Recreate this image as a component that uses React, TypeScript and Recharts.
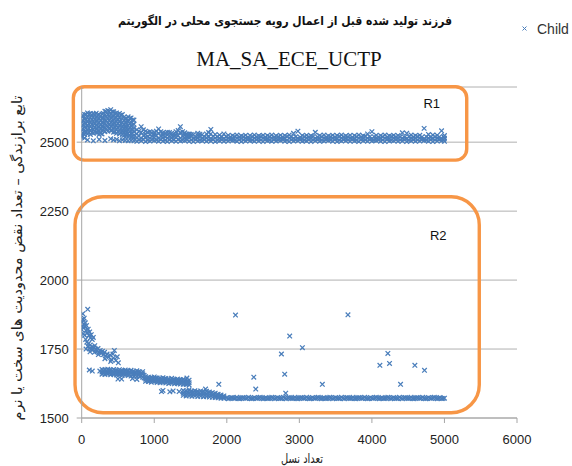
import React from 'react';
import { ScatterChart, Scatter, XAxis, YAxis, CartesianGrid, ReferenceArea } from 'recharts';

// ---------- tick labels ----------
const xTicks = [0, 1000, 2000, 3000, 4000, 5000, 6000];
const yTicks = [1500, 1750, 2000, 2250, 2500];

// ---------- R1 : early cloud (generation 0..720) ----------
const earlyGens = [0, 40, 80, 120, 160, 200, 240, 280, 320, 360, 400, 440, 480, 520, 560, 600, 640, 680, 720];
const e1 = [2592, 2600, 2606, 2604, 2603, 2605, 2600, 2602, 2612, 2615, 2618, 2610, 2606, 2604, 2600, 2585, 2592, 2588, 2580];
const e2 = [2575, 2585, 2590, 2588, 2590, 2592, 2585, 2588, 2598, 2600, 2602, 2595, 2590, 2590, 2585, 2570, 2575, 2572, 2565];
const e3 = [2560, 2570, 2575, 2572, 2575, 2578, 2570, 2572, 2582, 2585, 2588, 2580, 2575, 2575, 2570, 2555, 2560, 2558, 2550];
const e4 = [2545, 2555, 2560, 2558, 2560, 2562, 2555, 2558, 2568, 2570, 2572, 2565, 2560, 2560, 2555, 2540, 2545, 2542, 2538];
const e5 = [2530, 2540, 2545, 2542, 2545, 2548, 2540, 2542, 2552, 2555, 2558, 2550, 2545, 2545, 2540, 2528, 2532, 2530, 2525];
const e6 = [2518, 2528, 2530, 2528, 2532, 2535, 2528, 2530, 2538, 2540, 2542, 2536, 2532, 2530, 2528, 2518, 2520, 2518, 2515];
const e7 = [2522, 2515, 2508, null, 2505, null, 2510, null, 2506, null, 2512, 2508, 2510, 2505, 2508, 2506, 2505, 2506, 2505];
const earlyGensB = [20, 60, 100, 140, 180, 220, 260, 300, 340, 380, 420, 460, 500, 540, 580, 620, 660, 700];
const eb1 = [2596, 2600, 2602, 2598, 2600, 2598, 2596, 2604, 2610, 2612, 2610, 2604, 2600, 2598, 2590, 2585, 2586, 2580];
const eb2 = [2578, 2582, 2580, 2582, 2584, 2580, 2578, 2588, 2594, 2596, 2592, 2586, 2582, 2580, 2565, 2570, 2568, 2562];
const eb3 = [2562, 2568, 2566, 2565, 2570, 2566, 2563, 2572, 2578, 2580, 2576, 2570, 2568, 2566, 2552, 2556, 2552, 2546];
const eb4 = [2548, 2552, 2550, 2550, 2554, 2550, 2548, 2558, 2562, 2565, 2560, 2555, 2552, 2550, 2538, 2542, 2538, 2532];
const eb5 = [2532, 2538, 2535, 2536, 2540, 2535, 2532, 2544, 2548, 2550, 2544, 2538, 2538, 2535, 2524, 2528, 2524, 2520];

// ---------- R1 : band (generation 760..5000) ----------
const bandGens = [
  760, 820, 880, 940, 1000, 1060, 1120, 1180, 1240, 1300,
  1360, 1420, 1480, 1540, 1600, 1660, 1720, 1780, 1840, 1900,
  1960, 2020, 2080, 2140, 2200, 2260, 2320, 2380, 2440, 2500,
  2560, 2620, 2680, 2740, 2800, 2860, 2920, 2980, 3040, 3100,
  3160, 3220, 3280, 3340, 3400, 3460, 3520, 3580, 3640, 3700,
  3760, 3820, 3880, 3940, 4000, 4060, 4120, 4180, 4240, 4300,
  4360, 4420, 4480, 4540, 4600, 4660, 4720, 4780, 4840, 4900,
  4960, 5000,
];
const b1 = [
  2503, 2505, 2502, 2504, 2506, 2503, 2504, 2502, 2505, 2503,
  2504, 2506, 2503, 2502, 2504, 2505, 2503, 2504, 2502, 2505,
  2503, 2504, 2506, 2503, 2502, 2504, 2505, 2503, 2504, 2502,
  2505, 2503, 2504, 2506, 2503, 2502, 2504, 2505, 2503, 2504,
  2502, 2505, 2503, 2504, 2506, 2503, 2502, 2504, 2505, 2503,
  2504, 2502, 2505, 2503, 2504, 2506, 2503, 2502, 2504, 2505,
  2503, 2504, 2502, 2505, 2503, 2504, 2506, 2503, 2502, 2504,
  2505, 2503,
];
const b2 = [
  2516, 2514, 2518, 2515, 2517, 2513, 2516, 2514, 2515, 2517,
  2514, 2516, 2515, 2513, 2515, 2514, 2516, 2513, 2515, 2514,
  2513, 2514, 2512, 2515, 2513, 2514, 2512, 2515, 2513, 2514,
  2512, 2515, 2513, 2514, 2512, 2515, 2513, 2514, 2512, 2515,
  2513, 2514, 2512, 2515, 2513, 2514, 2512, 2515, 2513, 2514,
  2512, 2515, 2513, 2514, 2512, 2515, 2513, 2514, 2512, 2515,
  2513, 2514, 2512, 2515, 2513, 2514, 2512, 2515, 2513, 2514,
  2512, 2514,
];
const b3 = [
  2545, 2556, 2540, 2538, 2535, 2548, 2534, 2536, 2532, 2538,
  2556, 2534, 2530, 2528, 2532, 2527, 2530, 2546, 2528, 2526,
  2530, 2525, 2524, 2526, 2523, 2525, 2524, 2526, 2523, 2525,
  2524, 2526, 2523, 2525, 2524, 2526, 2532, 2540, 2524, 2525,
  2523, 2536, 2524, 2526, 2523, 2525, 2524, 2526, 2523, 2525,
  2524, 2526, 2523, 2530, 2538, 2525, 2524, 2526, 2523, 2525,
  2524, 2534, 2532, 2526, 2524, 2525, 2550, 2528, 2526, 2525,
  2541, 2524,
];
const b4 = [
  2530, 2535, 2528, 2527, 2526, 2532, 2525, 2526, 2524, 2527,
  2535, 2525, 2522, null, 2524, null, null, 2530, null, null,
];
const bandGensB = [
  790, 850, 910, 970, 1030, 1090, 1150, 1210, 1270, 1330,
  1390, 1450, 1510, 1570, 1630, 1690, 1750, 1810, 1870, 1930,
  1990, 2050, 2110, 2170, 2230, 2290, 2350, 2410, 2470, 2530,
  2590, 2650, 2710, 2770, 2830, 2890, 2950, 3010, 3070, 3130,
  3190, 3250, 3310, 3370, 3430, 3490, 3550, 3610, 3670, 3730,
  3790, 3850, 3910, 3970, 4030, 4090, 4150, 4210, 4270, 4330,
  4390, 4450, 4510, 4570, 4630, 4690, 4750, 4810, 4870, 4930,
  4990,
];
const bb1 = [
  2508, 2510, 2507, 2509, 2508, 2510, 2507, 2509, 2508, 2510,
  2507, 2509, 2508, 2510, 2507, 2509, 2508, 2510, 2507, 2509,
  2508, 2510, 2507, 2509, 2508, 2510, 2507, 2509, 2508, 2510,
  2507, 2509, 2508, 2510, 2507, 2509, 2508, 2510, 2507, 2509,
  2508, 2510, 2507, 2509, 2508, 2510, 2507, 2509, 2508, 2510,
  2507, 2509, 2508, 2510, 2507, 2509, 2508, 2510, 2507, 2509,
  2508, 2510, 2507, 2509, 2508, 2510, 2507, 2509, 2508, 2510,
  2508,
];
const bb2 = [
  2522, 2524, 2520, 2521, 2525, 2522, 2520, 2523, 2521, 2524,
  2522, 2520, 2521, 2519, 2521, 2520, 2519, 2521, 2520, 2519,
  2520, 2519, 2521, 2519, 2520, 2518, 2520, 2519, 2521, 2519,
  2520, 2518, 2520, 2519, 2521, 2519, 2520, 2518, 2520, 2519,
  2521, 2519, 2520, 2518, 2520, 2519, 2521, 2519, 2520, 2518,
  2520, 2519, 2521, 2519, 2520, 2518, 2520, 2519, 2521, 2519,
  2520, 2518, 2520, 2519, 2521, 2519, 2520, 2518, 2520, 2519,
  2520,
];
const bb3 = [2540, 2545, 2536, 2534, 2540, 2538, 2532, 2535, 2530, 2542, 2538, 2530, 2528, null, 2529, null, 2535, null];

// ---------- R2 : early cloud (generation 0..505) ----------
const r2Early: [number, number][] = [
  [0, 1820], [5, 1848], [14, 1878], [20, 1858], [28, 1840], [35, 1862], [42, 1830], [50, 1845],
  [58, 1818], [66, 1835], [83, 1894], [75, 1808], [90, 1822], [100, 1800], [110, 1812], [120, 1790],
  [132, 1802], [145, 1785], [160, 1792], [40, 1800], [55, 1785], [70, 1775], [85, 1760], [95, 1770],
  [105, 1752], [118, 1765], [130, 1750], [142, 1758], [155, 1748], [168, 1755], [180, 1762], [195, 1750],
  [210, 1742], [225, 1752], [240, 1738], [255, 1745], [270, 1735], [285, 1742], [300, 1730], [315, 1738],
  [330, 1725], [350, 1732], [370, 1720], [390, 1728], [410, 1712], [430, 1732], [450, 1745], [470, 1708],
  [490, 1722], [505, 1700], [60, 1750], [115, 1740], [175, 1738], [230, 1730], [320, 1715], [400, 1705],
  [440, 1718], [25, 1805], [12, 1830],
];

// ---------- R2 : lower branch (generation 280..1480) ----------
const lowGens = [280, 320, 360, 400, 440, 480, 520, 560, 600, 640, 680, 720, 760, 800, 840,
  880, 920, 960, 1000, 1040, 1080, 1120, 1160, 1200, 1240, 1280, 1320, 1360, 1400, 1440, 1480];
const l1 = [1676, 1675, 1677, 1674, 1676, 1673, 1675, 1672, 1674, 1671, 1673, 1669, 1671, 1667, 1668,
  1650, 1648, 1647, 1649, 1645, 1644, 1646, 1643, 1641, 1644, 1640, 1641, 1639, 1640, 1638, 1637];
const l2 = [1667, 1666, 1668, 1665, 1667, 1664, 1666, 1663, 1665, 1662, 1664, 1660, 1662, 1658, 1660,
  1641, 1640, 1638, 1640, 1637, 1636, 1638, 1635, 1633, 1636, 1632, 1633, 1631, 1631, 1629, 1628];
const l3 = [1659, 1658, 1660, 1657, 1659, 1656, 1658, 1655, 1657, 1654, 1652, 1652, 1650, 1650, 1648,
  1633, 1632, 1630, 1632, 1629, 1628, 1630, 1627, 1625, 1628, 1624, 1625, 1623, 1622, 1621, 1620];
const lowGensB = [300, 340, 380, 420, 460, 500, 540, 580, 620, 660, 700, 740, 780, 820, 860,
  900, 940, 980, 1020, 1060, 1100, 1140, 1180, 1220, 1260, 1300, 1340, 1380, 1420, 1460];
const lb1 = [1672, 1671, 1673, 1670, 1672, 1669, 1671, 1668, 1670, 1667, 1668, 1665, 1667, 1663, 1655,
  1645, 1644, 1643, 1645, 1641, 1640, 1642, 1639, 1637, 1640, 1636, 1637, 1635, 1635, 1633];
const lb2 = [1663, 1662, 1664, 1661, 1663, 1660, 1662, 1659, 1661, 1658, 1658, 1656, 1656, 1654, 1645,
  1637, 1636, 1634, 1636, 1633, 1632, 1634, 1631, 1629, 1632, 1628, 1629, 1627, 1626, 1625];

// ---------- R2 : second step (generation 1400..1960) ----------
const stepGens = [1400, 1440, 1480, 1520, 1560, 1600, 1640, 1680, 1720, 1760, 1800, 1840, 1880, 1920, 1960];
const s1 = [1600, 1598, 1602, 1597, 1599, 1596, 1598, 1595, 1597, 1594, 1592, 1590, 1586, 1583, 1580];
const s2 = [1590, 1589, 1591, 1588, 1589, 1587, 1588, 1586, 1587, 1585, 1583, 1581, 1578, 1576, 1574];
const s3 = [1582, 1580, 1581, 1579, 1580, 1578, 1579, 1577, 1578, 1576, 1575, 1574, 1573, 1572, 1572];
const stepGensB = [1420, 1460, 1500, 1540, 1580, 1620, 1660, 1700, 1740, 1780, 1820, 1860, 1900, 1940];
const sb1 = [1595, 1593, 1596, 1592, 1594, 1591, 1593, 1590, 1592, 1589, 1587, 1584, 1581, 1577];

// ---------- R2 : flat line (generation 2000..5000) ----------
const flatGens = [
  2000, 2040, 2080, 2120, 2160, 2200, 2240, 2280, 2320, 2360, 2400, 2440, 2480, 2520, 2560, 2600,
  2640, 2680, 2720, 2760, 2800, 2840, 2880, 2920, 2960, 3000, 3040, 3080, 3120, 3160, 3200, 3240,
  3280, 3320, 3360, 3400, 3440, 3480, 3520, 3560, 3600, 3640, 3680, 3720, 3760, 3800, 3840, 3880,
  3920, 3960, 4000, 4040, 4080, 4120, 4160, 4200, 4240, 4280, 4320, 4360, 4400, 4440, 4480, 4520,
  4560, 4600, 4640, 4680, 4720, 4760, 4800, 4840, 4880, 4920, 4960, 5000,
];
const flatVals = [
  1573, 1572, 1573, 1572, 1571, 1572, 1573, 1572, 1572, 1571, 1572, 1573, 1572, 1572, 1571, 1572,
  1573, 1572, 1572, 1571, 1572, 1573, 1572, 1572, 1571, 1572, 1573, 1572, 1572, 1571, 1572, 1573,
  1572, 1572, 1571, 1572, 1573, 1572, 1572, 1571, 1572, 1573, 1572, 1572, 1571, 1572, 1573, 1572,
  1572, 1571, 1572, 1573, 1572, 1572, 1571, 1572, 1573, 1572, 1572, 1571, 1572, 1573, 1572, 1572,
  1571, 1572, 1573, 1572, 1572, 1571, 1572, 1573, 1572, 1572, 1571, 1572,
];
const flatGensB = [
  2020, 2060, 2100, 2140, 2180, 2220, 2260, 2300, 2340, 2380, 2420, 2460, 2500, 2540, 2580, 2620,
  2660, 2700, 2740, 2780, 2820, 2860, 2900, 2940, 2980, 3020, 3060, 3100, 3140, 3180, 3220, 3260,
  3300, 3340, 3380, 3420, 3460, 3500, 3540, 3580, 3620, 3660, 3700, 3740, 3780, 3820, 3860, 3900,
  3940, 3980, 4020, 4060, 4100, 4140, 4180, 4220, 4260, 4300, 4340, 4380, 4420, 4460, 4500, 4540,
  4580, 4620, 4660, 4700, 4740, 4780, 4820, 4860, 4900, 4940, 4980,
];
const flatValsB = [
  1570, 1574, 1571, 1575, 1570, 1574, 1571, 1575, 1570, 1574, 1571, 1575, 1570, 1574, 1571, 1575,
  1570, 1574, 1571, 1575, 1570, 1574, 1571, 1575, 1570, 1574, 1571, 1575, 1570, 1574, 1571, 1575,
  1570, 1574, 1571, 1575, 1570, 1574, 1571, 1575, 1570, 1574, 1571, 1575, 1570, 1574, 1571, 1575,
  1570, 1574, 1571, 1575, 1570, 1574, 1571, 1575, 1570, 1574, 1571, 1575, 1570, 1574, 1571, 1575,
  1570, 1574, 1571, 1575, 1570, 1574, 1571, 1575, 1570, 1574, 1571,
];

// ---------- R2 : scattered points and outliers ----------
const r2Scatter: [number, number][] = [
  [105, 1674], [146, 1670], [250, 1670], [500, 1641], [550, 1641], [700, 1643], [760, 1640],
  [1100, 1596], [1120, 1600], [1215, 1595], [1260, 1598], [1343, 1596], [1450, 1645],
  [1707, 1605], [1890, 1622],
];
const outliers: [number, number][] = [
  [2120, 1873], [2867, 1797], [2753, 1732], [2372, 1648], [2798, 1659], [2399, 1605], [2812, 1590],
  [3042, 1755], [3670, 1874], [3317, 1622], [4110, 1691], [4220, 1734], [4243, 1698], [4592, 1691],
  [4725, 1673], [4395, 1622],
];

// ---------- helpers ----------
type P = { x: number; y: number };
const rows = (gens: number[], ...rs: (number | null)[][]): P[] => {
  const out: P[] = [];
  rs.forEach((r) => r.forEach((v, i) => { if (v != null) out.push({ x: gens[i], y: v }); }));
  return out;
};
const pairs = (arr: [number, number][]): P[] => arr.map(([x, y]) => ({ x, y }));

const r1Points = [
  ...rows(earlyGens, e1, e2, e3, e4, e5, e6, e7),
  ...rows(earlyGensB, eb1, eb2, eb3, eb4, eb5),
  ...rows(bandGens, b1, b2, b3, b4),
  ...rows(bandGensB, bb1, bb2, bb3),
];
const r2Points = [
  ...pairs(r2Early),
  ...rows(lowGens, l1, l2, l3),
  ...rows(lowGensB, lb1, lb2),
  ...rows(stepGens, s1, s2, s3),
  ...rows(stepGensB, sb1),
  ...rows(flatGens, flatVals),
  ...rows(flatGensB, flatValsB),
  ...pairs(r2Scatter),
  ...pairs(outliers),
];

const BLUE = '#4a7ebb';
const ORANGE = '#f79646';
const AXIS = '#a6a6a6';

const XMark = (props: any) => {
  const { cx, cy } = props;
  if (cx == null || cy == null) return null;
  const d = 2.3;
  return (
    <path
      d={`M${cx - d},${cy - d}L${cx + d},${cy + d}M${cx - d},${cy + d}L${cx + d},${cy - d}`}
      stroke={BLUE}
      strokeWidth={1.25}
      fill="none"
    />
  );
};

const boxShape = (label: string, rx: number, dxRight: number, dyTop: number) => (p: any) => (
  <g>
    <rect x={p.x} y={p.y} width={p.width} height={p.height} rx={rx} ry={rx}
      fill="none" stroke={ORANGE} strokeWidth={3.4} />
    <text x={p.x + p.width - dxRight} y={p.y + dyTop} textAnchor="middle"
      fontFamily="'Liberation Sans', Arial, sans-serif" fontSize={13} fill="#111">{label}</text>
  </g>
);

const tickStyle = { fontSize: 13, fill: '#222', fontFamily: "'Liberation Sans', Arial, sans-serif" };

export default function App() {
  return (
    <div style={{ position: 'absolute', left: 0, top: 0, width: 572, height: 466, background: '#fff' }}>
      <ScatterChart width={572} height={466} margin={{ top: 87, right: 55, bottom: 18, left: 21.7 }}>
        <CartesianGrid horizontal vertical={false} stroke="#b0b0b0" />
        <XAxis type="number" dataKey="x" domain={[0, 6000]} ticks={xTicks} height={30}
          axisLine={{ stroke: AXIS }} tickLine={{ stroke: AXIS }} tickSize={5} tickMargin={12}
          tick={tickStyle} allowDataOverflow />
        <YAxis type="number" dataKey="y" domain={[1500, 2700]} ticks={yTicks} width={60}
          axisLine={{ stroke: AXIS }} tickLine={{ stroke: AXIS }} tickSize={5} tickMargin={8}
          tick={tickStyle} allowDataOverflow />
        <Scatter name="Child" data={r1Points} shape={XMark} isAnimationActive={false} />
        <Scatter name="Child" data={r2Points} shape={XMark} isAnimationActive={false} />
        <ReferenceArea x1={-115} x2={5307} y1={2435} y2={2701} ifOverflow="visible"
          shape={boxShape('R1', 11, 35, 21.5)} />
        <ReferenceArea x1={-92} x2={5480} y1={1519} y2={2302} ifOverflow="visible"
          shape={boxShape('R2', 28, 41, 43.5)} />
      </ScatterChart>
      <svg width={572} height={466} style={{ position: 'absolute', left: 0, top: 0, pointerEvents: 'none' }}>
        <text x={285} y={25} textAnchor="middle" fontFamily="'DejaVu Sans', sans-serif"
          fontWeight="bold" fontSize={12} fill="#111" textLength={334} lengthAdjust="spacingAndGlyphs">
          فرزند تولید شده قبل از اعمال رویه جستجوی محلی در الگوریتم
        </text>
        <text x={289} y={66} textAnchor="middle" fontFamily="'Liberation Serif', 'Times New Roman', serif"
          fontSize={21} fill="#111">MA_SA_ECE_UCTP</text>
        <path d="M522.5,26.5L526.5,30.5M522.5,30.5L526.5,26.5" stroke={BLUE} strokeWidth={1} fill="none" />
        <text x={537} y={34} fontFamily="'Liberation Sans', Arial, sans-serif" fontSize={14} fill="#333">Child</text>
        <text x={0} y={0} transform="translate(22,258) rotate(-90)" textAnchor="middle"
          fontFamily="'DejaVu Sans', sans-serif" fontSize={14} fill="#222" textLength={325}
          lengthAdjust="spacingAndGlyphs">
          تابع برازندگی – تعداد نقض محدودیت های سخت یا نرم
        </text>
        <text x={302} y={463} textAnchor="middle" fontFamily="'DejaVu Sans', sans-serif"
          fontSize={13} fill="#222" textLength={42} lengthAdjust="spacingAndGlyphs">تعداد نسل</text>
      </svg>
    </div>
  );
}
